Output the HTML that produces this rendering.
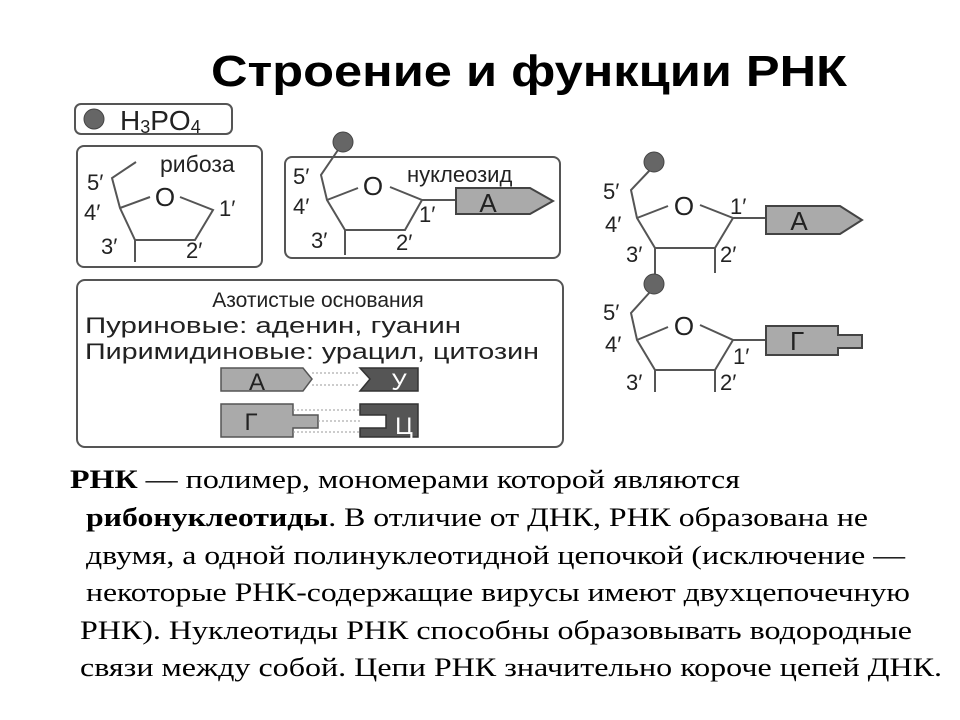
<!DOCTYPE html>
<html><head><meta charset="utf-8"><style>
html,body{margin:0;padding:0;background:#fff;width:960px;height:720px;overflow:hidden}
svg{display:block}
.s{font-family:"Liberation Sans",sans-serif;fill:#222}
.t{font-family:"Liberation Serif",serif;font-size:26px;fill:#000}
</style></head><body>
<svg width="960" height="720" viewBox="0 0 960 720" xmlns="http://www.w3.org/2000/svg">
<text x="529" y="86" text-anchor="middle" font-family="Liberation Sans,sans-serif" font-weight="bold" font-size="44" textLength="636" lengthAdjust="spacingAndGlyphs">Строение и функции РНК</text>

<g stroke="#555" stroke-width="2" fill="none">
<rect x="75" y="104" width="157" height="30" rx="6"/>
<rect x="77" y="146" width="185" height="121" rx="7"/>
<rect x="285" y="157" width="275" height="101" rx="7"/>
<rect x="77" y="280" width="486" height="167" rx="8"/>
</g>
<circle cx="94" cy="119" r="10" fill="#666" stroke="#444"/>
<text class="s" x="120" y="130" font-size="28">H<tspan font-size="18" dy="3">3</tspan><tspan dy="-3">PO</tspan><tspan font-size="18" dy="3">4</tspan></text>

<!-- ribose -->
<g stroke="#555" stroke-width="2" fill="none">
<polyline points="136,162 112,178 120,208 135,240 195,240 213,210 180,197"/>
<line x1="120" y1="208" x2="150" y2="197"/>
<line x1="135" y1="240" x2="135" y2="262"/>
</g>
<text class="s" x="165" y="206" font-size="26" text-anchor="middle">O</text>
<text class="s" x="160" y="172" font-size="23">рибоза</text>
<text class="s" x="87" y="190" font-size="22">5′</text>
<text class="s" x="84" y="220" font-size="22">4′</text>
<text class="s" x="101" y="254" font-size="22">3′</text>
<text class="s" x="186" y="258" font-size="22">2′</text>
<text class="s" x="219" y="216" font-size="22">1′</text>

<!-- nucleoside -->
<g stroke="#555" stroke-width="2" fill="none">
<polyline points="338,150 321,175 327,200 345,230 405,230 422,200 390,187"/>
<line x1="327" y1="200" x2="358" y2="188"/>
<line x1="345" y1="230" x2="345" y2="255"/>
<line x1="422" y1="200" x2="456" y2="200"/>
</g>
<circle cx="343" cy="142" r="10" fill="#666" stroke="#444"/>
<text class="s" x="373" y="195" font-size="26" text-anchor="middle">O</text>
<text class="s" x="407" y="182" font-size="22">нуклеозид</text>
<text class="s" x="293" y="184" font-size="22">5′</text>
<text class="s" x="293" y="214" font-size="22">4′</text>
<text class="s" x="311" y="248" font-size="22">3′</text>
<text class="s" x="396" y="250" font-size="22">2′</text>
<text class="s" x="419" y="222" font-size="22">1′</text>
<polygon points="456,188 530,188 553,201 530,214 456,214" fill="#aaa" stroke="#444" stroke-width="2"/>
<text class="s" x="488" y="212" font-size="26" text-anchor="middle">A</text>

<!-- right nucleotides -->
<g stroke="#555" stroke-width="2" fill="none">
<polyline points="650,170 631,190 637,218 655,248 715,248 733,218 700,205"/>
<line x1="637" y1="218" x2="668" y2="206"/>
<line x1="655" y1="248" x2="655" y2="280"/>
<line x1="715" y1="248" x2="715" y2="273"/>
<line x1="733" y1="218" x2="766" y2="218"/>
<polyline points="650,292 631,313 637,340 655,370 715,370 733,340 700,325"/>
<line x1="637" y1="340" x2="668" y2="327"/>
<line x1="655" y1="370" x2="655" y2="392"/>
<line x1="715" y1="370" x2="715" y2="392"/>
<line x1="733" y1="340" x2="766" y2="340"/>
</g>
<circle cx="654" cy="162" r="10" fill="#666" stroke="#444"/>
<circle cx="654" cy="284" r="10" fill="#666" stroke="#444"/>
<text class="s" x="684" y="215" font-size="26" text-anchor="middle">O</text>
<text class="s" x="684" y="335" font-size="26" text-anchor="middle">O</text>
<text class="s" x="603" y="199" font-size="22">5′</text>
<text class="s" x="605" y="232" font-size="22">4′</text>
<text class="s" x="626" y="262" font-size="22">3′</text>
<text class="s" x="720" y="262" font-size="22">2′</text>
<text class="s" x="730" y="214" font-size="22">1′</text>
<text class="s" x="603" y="320" font-size="22">5′</text>
<text class="s" x="605" y="352" font-size="22">4′</text>
<text class="s" x="626" y="390" font-size="22">3′</text>
<text class="s" x="720" y="390" font-size="22">2′</text>
<text class="s" x="733" y="364" font-size="22">1′</text>
<polygon points="766,206 840,206 862,220 840,234 766,234" fill="#aaa" stroke="#444" stroke-width="2"/>
<text class="s" x="799" y="230" font-size="26" text-anchor="middle">A</text>
<polygon points="766,326 838,326 838,335 862,335 862,348 838,348 838,355 766,355" fill="#aaa" stroke="#444" stroke-width="2"/>
<text class="s" x="797" y="350" font-size="26" text-anchor="middle">Г</text>

<!-- bases -->
<text class="s" x="318" y="307" font-size="21" text-anchor="middle">Азотистые основания</text>
<text class="s" x="85" y="333" font-size="22" textLength="376" lengthAdjust="spacingAndGlyphs">Пуриновые: аденин, гуанин</text>
<text class="s" x="85" y="359" font-size="22" textLength="454" lengthAdjust="spacingAndGlyphs">Пиримидиновые: урацил, цитозин</text>
<polygon points="221,368 303,368 312,379 303,391 221,391" fill="#aaa" stroke="#555" stroke-width="1.5"/>
<text class="s" x="257" y="390" font-size="24" text-anchor="middle">A</text>
<polygon points="360,368 418,368 418,391 360,391 370,379" fill="#555" stroke="#333" stroke-width="1.5"/>
<text x="399" y="390" font-family="Liberation Sans,sans-serif" font-size="24" fill="#fff" text-anchor="middle">У</text>
<polygon points="221,404 293,404 293,415 318,415 318,428 293,428 293,437 221,437" fill="#aaa" stroke="#555" stroke-width="1.5"/>
<text class="s" x="251" y="430" font-size="24" text-anchor="middle">Г</text>
<polygon points="360,404 418,404 418,437 360,437 360,428 386,428 386,415 360,415" fill="#555" stroke="#333" stroke-width="1.5"/>
<text x="404" y="434" font-family="Liberation Sans,sans-serif" font-size="24" fill="#fff" text-anchor="middle">Ц</text>
<g stroke="#999" stroke-width="1" stroke-dasharray="2,2">
<line x1="312" y1="373" x2="360" y2="373"/><line x1="312" y1="385" x2="360" y2="385"/>
<line x1="293" y1="410" x2="360" y2="410"/><line x1="318" y1="421" x2="360" y2="421"/><line x1="293" y1="432" x2="360" y2="432"/>
</g>

<!-- paragraph -->
<text class="t" x="70" y="488" textLength="670" lengthAdjust="spacingAndGlyphs"><tspan font-weight="bold">РНК</tspan> — полимер, мономерами которой являются</text>
<text class="t" x="86" y="526" textLength="782" lengthAdjust="spacingAndGlyphs"><tspan font-weight="bold">рибонуклеотиды</tspan>. В отличие от ДНК, РНК образована не</text>
<text class="t" x="86" y="564" textLength="819" lengthAdjust="spacingAndGlyphs">двумя, а одной полинуклеотидной цепочкой (исключение —</text>
<text class="t" x="86" y="601" textLength="824" lengthAdjust="spacingAndGlyphs">некоторые РНК-содержащие вирусы имеют двухцепочечную</text>
<text class="t" x="80" y="639" textLength="832" lengthAdjust="spacingAndGlyphs">РНК). Нуклеотиды РНК способны образовывать водородные</text>
<text class="t" x="80" y="676" textLength="862" lengthAdjust="spacingAndGlyphs">связи между собой. Цепи РНК значительно короче цепей ДНК.</text>
</svg>
</body></html>
